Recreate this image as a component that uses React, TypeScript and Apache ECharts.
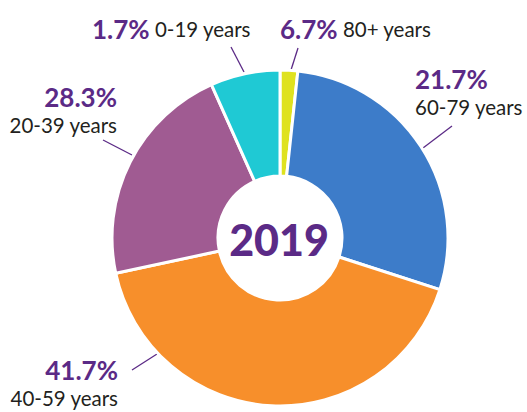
import React, { useEffect, useRef } from "react";
import * as echarts from "echarts";

// Slices clockwise from 12 o'clock
const sliceValues = [1.7, 28.3, 41.7, 21.7, 6.7];
const sliceColors = ["#dfe21f", "#3d7cc9", "#f78f2b", "#a05b92", "#1fc9d4"];
// Label texts as printed next to each slice
const labelPercents = ["6.7%", "21.7%", "41.7%", "28.3%", "1.7%"];
const labelNames = ["80+ years", "60-79 years", "40-59 years", "20-39 years", "0-19 years"];
const centerText = "2019";

const PURPLE = "#5b2a86";

type Lay = { x: number; y: number; align: string; verticalAlign: string; line: number[][]; inline: boolean };
const layouts: Lay[] = [
  { x: 280, y: 29, align: "left", verticalAlign: "middle", line: [[298, 48], [291, 70]], inline: true },
  { x: 415, y: 65, align: "left", verticalAlign: "top", line: [[452, 126], [423, 148]], inline: false },
  { x: 118, y: 356, align: "right", verticalAlign: "top", line: [[132, 370], [157, 354]], inline: false },
  { x: 117, y: 83, align: "right", verticalAlign: "top", line: [[103, 140], [132, 155]], inline: false },
  { x: 92, y: 29, align: "left", verticalAlign: "middle", line: [[231, 47], [244, 72]], inline: true },
];

export default function App() {
  const ref = useRef<HTMLDivElement>(null);
  useEffect(() => {
    if (!ref.current) return;
    const chart = echarts.init(ref.current, undefined, { renderer: "svg" });
    const data = sliceValues.map((v, i) => ({
      value: v,
      name: labelNames[i],
      itemStyle: { color: sliceColors[i] },
      label: {
        formatter: layouts[i].inline
          ? `{p|${labelPercents[i]}}{n| ${labelNames[i]}}`
          : `{p|${labelPercents[i]}}\n{n|${labelNames[i]}}`,
      },
    }));
    chart.setOption({
      animation: false,
      backgroundColor: "#ffffff",
      graphic: [
        {
          type: "text",
          x: 279,
          y: 239,
          style: {
            text: centerText,
            fill: PURPLE,
            font: "900 43px Lato, 'Open Sans', sans-serif",
            align: "center",
            verticalAlign: "middle",
          },
          z: 10,
        },
      ],
      series: [
        {
          type: "pie",
          center: [280, 238],
          radius: [62, 168],
          startAngle: 90,
          clockwise: true,
          avoidLabelOverlap: false,
          itemStyle: { borderColor: "#ffffff", borderWidth: 3 },
          emphasis: { disabled: true },
          label: {
            show: true,
            position: "outside",
            fontFamily: "Lato, 'Open Sans', sans-serif",
            rich: {
              p: { fontSize: 26, fontWeight: "bold", color: PURPLE, lineHeight: 28, fontFamily: "Lato, sans-serif" },
              n: { fontSize: 20.5, color: "#231f20", lineHeight: 28, fontFamily: "Lato, sans-serif" },
            },
          },
          labelLine: { show: true, lineStyle: { color: PURPLE, width: 1.3 } },
          labelLayout: (params: any) => {
            const l = layouts[params.dataIndex];
            return {
              x: l.x,
              y: l.y,
              align: l.align,
              verticalAlign: l.verticalAlign,
              labelLinePoints: l.line,
            };
          },
          data,
        },
      ],
    });
    return () => chart.dispose();
  }, []);
  return (
    <div
      ref={ref}
      style={{ position: "fixed", left: 0, top: 0, width: 527, height: 412 }}
    />
  );
}
